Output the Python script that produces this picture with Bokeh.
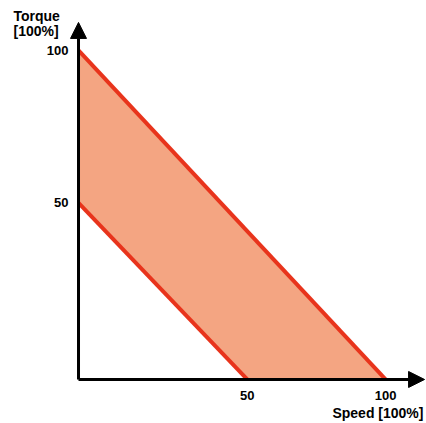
from bokeh.plotting import figure
from bokeh.models import Range1d, Arrow, NormalHead, Label
from bokeh.core.properties import value
from bokeh.embed import file_html
from bokeh.resources import INLINE

# Data (speed / torque in %); the axes cross slightly below zero
axis_origin_speed = -11
axis_origin_torque = -8
upper_speed = [-11, 100]
upper_torque = [100, -8]
lower_speed = [-11, 50]
lower_torque = [50, -8]
tick_values = [50, 100]
tick_labels = ["50", "100"]

FONT = "Liberation Sans"
FILL = "#F4A582"
LINE = "#E8341C"

p = figure(width=426, height=423,
           x_range=Range1d(-39.2, 114.8), y_range=Range1d(-22.45, 116.4),
           output_backend="svg", toolbar_location=None,
           min_border_left=0, min_border_bottom=0,
           min_border_top=0, min_border_right=0)
p.outline_line_color = None
p.grid.visible = False
p.axis.visible = False
p.background_fill_color = "white"

# band between the two lines
band_x = upper_speed + lower_speed[::-1]
band_y = upper_torque + lower_torque[::-1]
p.patch(band_x, band_y, fill_color=FILL, line_color=None)
p.line(upper_speed, upper_torque, line_color=LINE, line_width=4)
p.line(lower_speed, lower_torque, line_color=LINE, line_width=4)

# axes with arrow heads
p.add_layout(Arrow(end=NormalHead(size=16, fill_color="black", line_color="black", line_width=1),
                   x_start=axis_origin_speed, y_start=axis_origin_torque,
                   x_end=axis_origin_speed, y_end=109.2,
                   line_width=3, line_color="black"))
p.add_layout(Arrow(end=NormalHead(size=16, fill_color="black", line_color="black", line_width=1),
                   x_start=axis_origin_speed, y_start=axis_origin_torque,
                   x_end=114.1, y_end=axis_origin_torque,
                   line_width=3, line_color="black"))

# tick labels
p.text(x=tick_values, y=[axis_origin_torque] * len(tick_values), text=tick_labels,
       y_offset=12, text_align="center", text_baseline="top",
       text_font=value(FONT), text_font_style="bold", text_font_size="13px",
       text_color="black")
p.text(x=[axis_origin_speed] * len(tick_values), y=tick_values, text=tick_labels,
       x_offset=-10, text_align="right", text_baseline="middle",
       text_font=value(FONT), text_font_style="bold", text_font_size="13px",
       text_color="black")

# axis titles
for txt, yy in (("Torque", 111.2), ("[100%]", 106.3)):
    p.add_layout(Label(x=-34.5, y=yy, text=txt, text_font=FONT, text_font_style="bold",
                       text_font_size="14px", text_align="left", text_baseline="middle",
                       text_color="black"))
p.add_layout(Label(x=113.7, y=-19.1, text="Speed [100%]", text_font=FONT, text_font_style="bold",
                   text_font_size="14px", text_align="right", text_baseline="middle",
                   text_color="black"))

open("out.html", "w").write(file_html(p, INLINE))
